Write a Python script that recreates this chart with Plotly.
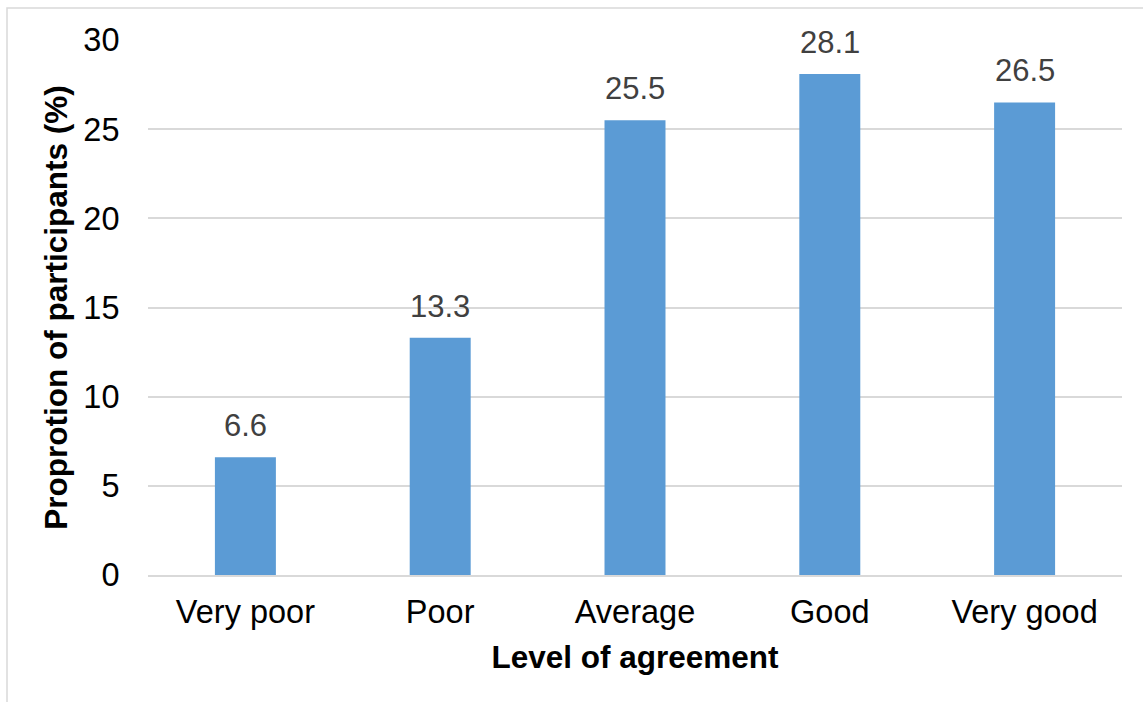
import plotly.graph_objects as go

categories = ["Very poor", "Poor", "Average", "Good", "Very good"]
values = [6.6, 13.3, 25.5, 28.1, 26.5]
y_ticks = [0, 5, 10, 15, 20, 25, 30]

W, H = 1143, 702
L, R, T, B = 148, 21, 40, 127
pw, ph = W - L - R, H - T - B

font = "Liberation Sans, Arial, sans-serif"

fig = go.Figure(go.Bar(
    x=categories,
    y=values,
    marker=dict(color="#5B9BD5", line=dict(width=0)),
    hoverinfo="x+y",
))

# Value labels above each bar
for c, v in zip(categories, values):
    fig.add_annotation(
        x=c, y=v, text=f"{v:.1f}", showarrow=False,
        yanchor="bottom", yshift=12,
        font=dict(family=font, size=31, color="#404040"),
    )

fig.update_layout(
    width=W, height=H,
    margin=dict(l=L, r=R, t=T, b=B),
    paper_bgcolor="white",
    plot_bgcolor="white",
    bargap=0.687,
    showlegend=False,
    font=dict(family=font, color="black"),
    xaxis=dict(
        showgrid=False,
        showline=True, linecolor="#D9D9D9", linewidth=1.5,
        ticks="outside", ticklen=7, tickcolor="rgba(0,0,0,0)",
        tickfont=dict(size=32.5, color="black"),
        title=dict(text="<b>Level of agreement</b>", font=dict(size=31.5, color="black"), standoff=17),
    ),
    yaxis=dict(
        range=[0, 30],
        tickvals=y_ticks,
        showgrid=True, gridcolor="#D9D9D9", gridwidth=1.5,
        zeroline=False,
        ticks="outside", ticklen=21, tickcolor="rgba(0,0,0,0)",
        tickfont=dict(size=32.5, color="black"),
        title=dict(text="<b>Proprotion of participants (%)</b>", font=dict(size=31.5, color="black"), standoff=6),
    ),
)

# Outer chart frame
fig.add_shape(
    type="rect", xref="paper", yref="paper",
    x0=(7 - L) / pw, x1=(W + 20 - L) / pw,
    y0=-(H + 20 - T - ph) / ph, y1=1 + (T - 8) / ph,
    line=dict(color="#D9D9D9", width=1.5),
    fillcolor="rgba(0,0,0,0)", layer="below",
)

fig.write_html("out.html")
